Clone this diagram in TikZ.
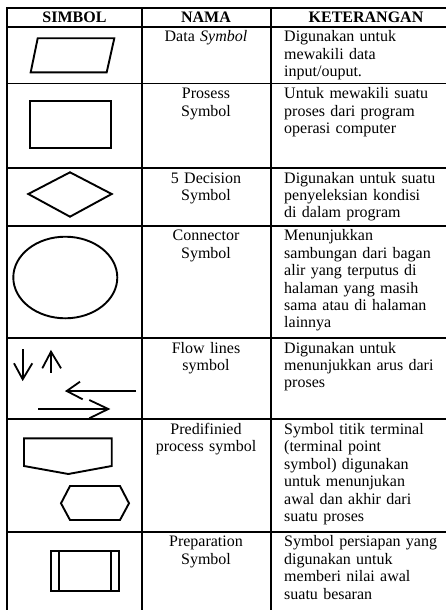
\documentclass[tikz,border=0pt]{standalone}
\usepackage{fontspec}
\setmainfont{Liberation Serif}
\begin{document}
\begin{tikzpicture}[x=1pt,y=-1pt,
  grid/.style={line width=1.9pt},
  shp/.style={line width=1.9pt, line join=miter},
  flw/.style={line width=1.8pt},
  txt/.style={inner sep=0pt, font=\fontsize{16}{17.4}\selectfont, execute at begin node=\strut},
  hd/.style={inner sep=0pt, font=\fontsize{16}{17.4}\selectfont\bfseries, anchor=base},
  nama/.style={txt, anchor=north, text width=128pt, align=center},
  ket/.style={txt, anchor=north west, text width=175pt, align=left}]
\useasboundingbox (0,0) rectangle (446,610);
\fill[white] (0,0) rectangle (446,610);
% table grid
\draw[grid] (7.3,8) -- (7.3,610);
\draw[grid] (141.7,8) -- (141.7,610);
\draw[grid] (271,8) -- (271,610);
\foreach \yy in {8,26.7,83.5,168,225.7,338,419.3,531.7}
  \draw[grid] (6.4,\yy) -- (446,\yy);
% header
\node[hd] (h1) at (74.5,22.5) {SIMBOL};
\node[hd] (h2) at (206,22.5) {NAMA};
\node[hd] (h3) at (366,22.5) {KETERANGAN};
% column 2
\node[nama] (n1) at (206,29.5) {Data \textit{Symbol}};
\node[nama] (n2) at (206,86.3) {Prosess\\Symbol};
\node[nama] (n3) at (206,170.8) {5 Decision\\Symbol};
\node[nama] (n4) at (206,228.5) {Connector\\Symbol};
\node[nama] (n5) at (206,340.8) {Flow lines\\symbol};
\node[nama] (n6) at (206,422.1) {Predifinied\\process symbol};
\node[nama] (n7) at (206,534.5) {Preparation\\Symbol};
% column 3
\node[ket] (k1) at (284,29.5) {Digunakan untuk\\mewakili data\\input/ouput.};
\node[ket] (k2) at (284,86.3) {Untuk mewakili suatu\\proses dari program\\operasi computer};
\node[ket] (k3) at (284,170.8) {Digunakan untuk suatu\\penyeleksian kondisi\\di dalam program};
\node[ket] (k4) at (284,228.5) {Menunjukkan\\sambungan dari bagan\\alir yang terputus di\\halaman yang masih\\sama atau di halaman\\lainnya};
\node[ket] (k5) at (284,340.8) {Digunakan untuk\\menunjukkan arus dari\\proses};
\node[ket] (k6) at (284,422.1) {Symbol titik terminal\\(terminal point\\symbol) digunakan\\untuk menunjukan\\awal dan akhir dari\\suatu proses};
\node[ket] (k7) at (284,534.5) {Symbol persiapan yang\\digunakan untuk\\memberi nilai awal\\suatu besaran};
% symbols
\draw[shp] (37.7,38.3) -- (114.3,38.3) -- (106.7,72.3) -- (30.7,72.3) -- cycle;
\draw[shp] (30,100.7) rectangle (111,147.7);
\draw[shp] (28.3,194) -- (70,172.3) -- (111.7,194) -- (70,216.7) -- cycle;
\draw[shp] (65.3,277.5) ellipse [x radius=52, y radius=40.8];
% flow lines
\draw[flw] (22.7,349) -- (22.7,379.3);
\draw[flw] (14,363.3) -- (22.7,379.3) -- (32.3,363.3);
\draw[flw] (51,372.7) -- (51,351.7);
\draw[flw] (42.3,368.3) -- (51,351.7) -- (61,368.3);
\draw[flw] (136,391) -- (66.7,391);
\draw[flw] (80,381.7) -- (66.7,391) -- (82.7,399.3);
\draw[flw] (38.3,409) -- (108.3,409);
\draw[flw] (89.3,400) -- (108.3,409) -- (89.3,418.3);
% predefined process
\draw[shp] (24,438.3) -- (111.7,438.3) -- (111.7,466) -- (68.3,474) -- (24,466) -- cycle;
\draw[shp] (61,503.3) -- (70,486) -- (120,486) -- (129,503.3) -- (120,520) -- (70,520) -- cycle;
% preparation
\draw[shp] (50.7,550.7) rectangle (119.3,590.7);
\draw[shp] (59.3,550.7) -- (59.3,590.7);
\draw[shp] (110.7,550.7) -- (110.7,590.7);
\end{tikzpicture}
\end{document}
